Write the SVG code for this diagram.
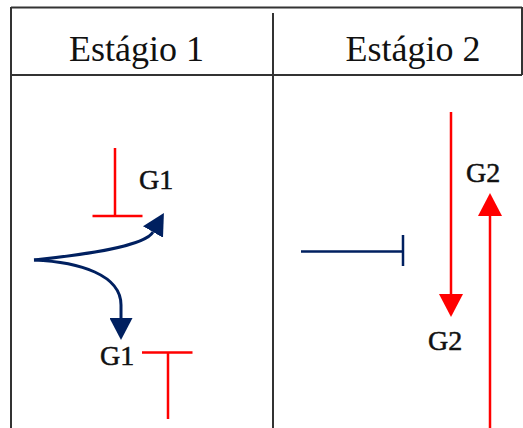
<svg xmlns="http://www.w3.org/2000/svg" width="523" height="428" viewBox="0 0 523 428">
<style>
.grid{stroke:#333;stroke-width:2;fill:none}
.hdr{font-size:36px;fill:#111;text-anchor:middle}
.lbl{font-size:28px;fill:#111;stroke:#111;stroke-width:0.5}
.ser{font-family:"Times New Roman",Tinos,"Liberation Serif","DejaVu Serif","Noto Serif",serif}
.red{stroke:#ff0000;stroke-width:2.5;fill:none}
.blue{stroke:#002060;stroke-width:3;fill:none}
</style>
<defs>
<marker id="ar" markerUnits="userSpaceOnUse" markerWidth="24" markerHeight="24" refX="0" refY="12" orient="auto" viewBox="0 0 24 24"><path d="M0,0 L23,12 L0,24 z" fill="#ff0000"/></marker>
<marker id="ab" markerUnits="userSpaceOnUse" markerWidth="23" markerHeight="23" refX="0" refY="11.5" orient="auto" viewBox="0 0 23 23"><path d="M0,0 L22,11.5 L0,23 z" fill="#002060"/></marker>
</defs>
<g id="table">
<path class="grid" d="M11,7.5 H522 M11,75 H522 M11,7 V428 M522,7 V75 M273,13 V428"/>
<text class="hdr ser" x="136.5" y="61">Estágio 1</text>
<text class="hdr ser" x="413" y="61">Estágio 2</text>
</g>
<g id="g1-top"><text class="lbl ser" x="139" y="189">G1</text></g>
<g id="g1-bottom"><text class="lbl ser" x="100" y="365">G1</text></g>
<g id="g2-top"><text class="lbl ser" x="466" y="182">G2</text></g>
<g id="g2-bottom"><text class="lbl ser" x="428" y="350">G2</text></g>
<g id="connectors">
<path class="red" d="M115,148 V216 M92.5,216 H142.5"/>
<path class="red" d="M142,352.5 H192.5 M168,352.5 V419"/>
<path class="blue" d="M34,260 C90,254 145,246 153,232" marker-end="url(#ab)"/>
<path class="blue" d="M34,260 C80,262 121,275 121,305 L121,318" marker-end="url(#ab)"/>
<path class="blue" d="M301,251.5 H403 M403,235 V266" style="stroke-width:2.5"/>
<path class="red" d="M451,112 V294" marker-end="url(#ar)"/>
<path class="red" d="M490,428 V216" marker-end="url(#ar)"/>
</g>
</svg>
